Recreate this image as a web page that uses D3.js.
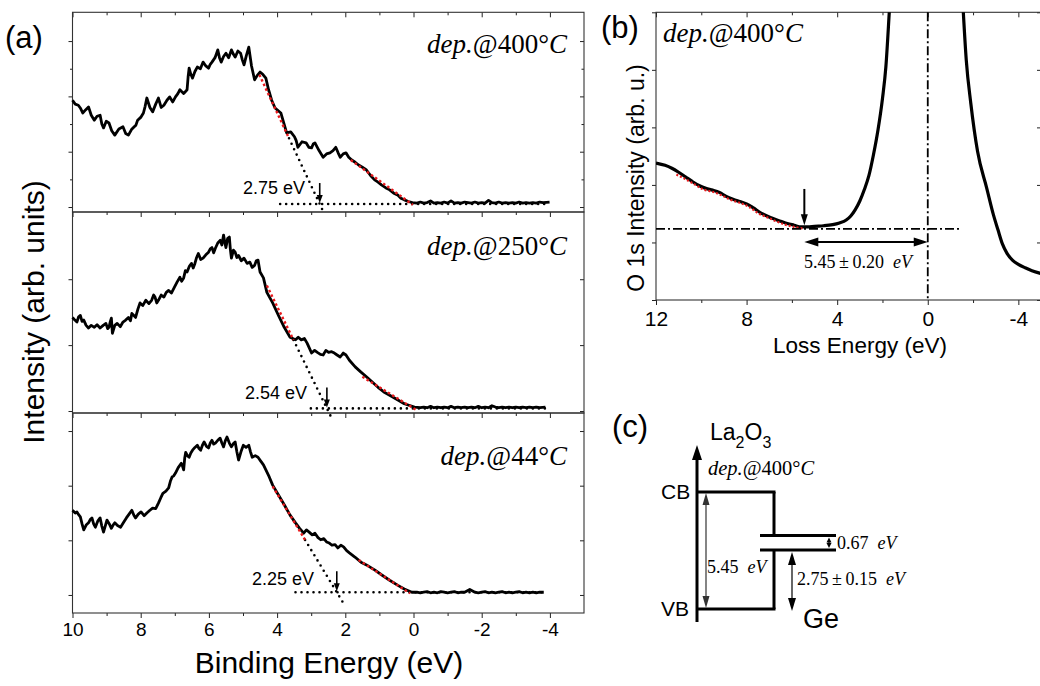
<!DOCTYPE html>
<html>
<head>
<meta charset="utf-8">
<script src="https://cdn.jsdelivr.net/npm/d3@7"></script>
<style>
  body { margin: 0; background: #fff; }
  svg { display: block; }
</style>
</head>
<body>
<svg id="fig" width="1040" height="686"></svg>
<script>
const SANS = '"Liberation Sans", Arial, sans-serif';
const SERIF = '"Liberation Serif", "Times New Roman", serif';

// ---------- (a) valence-band spectra ----------
const depTemps = ["400", "250", "44"];

const be400 = [10.00, 9.92, 9.83, 9.76, 9.70, 9.61, 9.53, 9.45, 9.36, 9.28, 9.19, 9.14, 9.09, 9.01, 8.93, 8.85, 8.76, 8.64, 8.52, 8.44, 8.36, 8.27, 8.19, 8.14, 8.09, 8.00, 7.92, 7.87, 7.82, 7.73, 7.65, 7.56, 7.48, 7.40, 7.32, 7.23, 7.15, 7.06, 6.98, 6.91, 6.85, 6.74, 6.64, 6.61, 6.58, 6.53, 6.48, 6.41, 6.34, 6.25, 6.17, 6.09, 6.01, 5.96, 5.91, 5.82, 5.74, 5.69, 5.64, 5.57, 5.50, 5.42, 5.34, 5.28, 5.23, 5.15, 5.07, 5.02, 4.97, 4.90, 4.83, 4.75, 4.66, 4.58, 4.50, 4.42, 4.33, 4.25, 4.16, 4.06, 3.89, 3.72, 3.60, 3.49, 3.44, 3.39, 3.27, 3.15, 3.07, 2.99, 2.94, 2.89, 2.77, 2.65, 2.55, 2.45, 2.36, 2.28, 2.21, 2.15, 2.06, 1.98, 1.90, 1.81, 1.71, 1.61, 1.50, 1.38, 1.26, 1.14, 1.04, 0.94, 0.82, 0.70, 0.58, 0.47, 0.37, 0.27, 0.15, 0.03,
  -0.1, -0.2, -0.3, -0.4, -0.5, -0.6, -0.7, -0.8, -0.9, -1.0, -1.1, -1.2, -1.3, -1.4, -1.5, -1.6, -1.7, -1.8, -1.9, -2.0, -2.1, -2.2, -2.3, -2.4, -2.5, -2.6, -2.7, -2.8, -2.9, -3.0, -3.1, -3.2, -3.3, -3.4, -3.5, -3.6, -3.7, -3.8, -3.99];
const int400 = [1.93, 1.86, 1.84, 1.78, 1.70, 1.76, 1.81, 1.66, 1.57, 1.64, 1.66, 1.50, 1.43, 1.55, 1.52, 1.38, 1.30, 1.41, 1.45, 1.33, 1.30, 1.40, 1.45, 1.48, 1.57, 1.62, 1.70, 1.82, 1.97, 1.80, 1.72, 1.86, 1.97, 1.80, 1.84, 1.93, 1.99, 1.90, 1.99, 2.05, 2.12, 2.05, 2.12, 2.35, 2.51, 2.40, 2.33, 2.45, 2.53, 2.50, 2.62, 2.55, 2.51, 2.58, 2.62, 2.70, 2.84, 2.70, 2.62, 2.72, 2.78, 2.70, 2.84, 2.76, 2.71, 2.82, 2.78, 2.66, 2.57, 2.74, 2.89, 2.55, 2.30, 2.38, 2.44, 2.40, 2.33, 2.12, 1.93, 1.79, 1.70, 1.34, 1.36, 1.27, 1.20, 1.08, 1.18, 1.16, 1.08, 1.07, 1.14, 1.16, 1.02, 0.90, 0.96, 0.98, 1.02, 1.08, 0.98, 0.90, 0.96, 0.98, 0.90, 0.85, 0.81, 0.76, 0.72, 0.67, 0.57, 0.49, 0.45, 0.40, 0.35, 0.31, 0.25, 0.22, 0.16, 0.13, 0.10, 0.08,
  0.07, 0.09, 0.07, 0.08, 0.11, 0.07, 0.08, 0.07, 0.09, 0.07, 0.11, 0.07, 0.08, 0.07, 0.09, 0.08, 0.07, 0.09, 0.07, 0.08, 0.07, 0.12, 0.08, 0.07, 0.09, 0.07, 0.08, 0.07, 0.08, 0.07, 0.09, 0.07, 0.08, 0.07, 0.08, 0.07, 0.09, 0.08, 0.09];

const be250 = [10.00, 9.93, 9.87, 9.82, 9.77, 9.72, 9.67, 9.60, 9.53, 9.45, 9.36, 9.28, 9.19, 9.10, 9.02, 8.97, 8.93, 8.89, 8.86, 8.83, 8.76, 8.69, 8.60, 8.52, 8.44, 8.36, 8.30, 8.26, 8.20, 8.15, 8.08, 8.02, 7.94, 7.85, 7.76, 7.68, 7.62, 7.58, 7.53, 7.48, 7.40, 7.32, 7.25, 7.18, 7.10, 7.01, 6.93, 6.85, 6.80, 6.74, 6.69, 6.64, 6.57, 6.51, 6.46, 6.41, 6.36, 6.31, 6.24, 6.17, 6.09, 6.01, 5.96, 5.91, 5.86, 5.81, 5.74, 5.67, 5.62, 5.57, 5.53, 5.50, 5.45, 5.40, 5.37, 5.34, 5.28, 5.23, 5.18, 5.13, 5.05, 4.97, 4.88, 4.80, 4.73, 4.66, 4.61, 4.56, 4.50, 4.40, 4.30, 4.13, 3.96, 3.79, 3.62, 3.46, 3.38, 3.29, 3.20, 3.12, 3.05, 2.99, 2.90, 2.82, 2.73, 2.65, 2.57, 2.49, 2.40, 2.32, 2.24, 2.15, 2.06, 1.98, 1.88, 1.71, 1.54, 1.38, 1.21, 1.04, 0.87, 0.70, 0.47, 0.27, -0.03,
  -0.2, -0.3, -0.4, -0.5, -0.6, -0.7, -0.8, -0.9, -1.0, -1.1, -1.2, -1.3, -1.4, -1.5, -1.6, -1.7, -1.8, -1.9, -2.0, -2.1, -2.2, -2.3, -2.4, -2.5, -2.6, -2.7, -2.8, -2.9, -3.0, -3.1, -3.2, -3.3, -3.4, -3.5, -3.6, -3.7, -3.87];
const int250 = [1.42, 1.38, 1.35, 1.43, 1.45, 1.36, 1.38, 1.30, 1.26, 1.30, 1.27, 1.31, 1.26, 1.30, 1.33, 1.25, 1.27, 1.36, 1.41, 1.18, 1.30, 1.33, 1.28, 1.35, 1.38, 1.42, 1.37, 1.48, 1.45, 1.42, 1.55, 1.64, 1.60, 1.68, 1.63, 1.68, 1.76, 1.73, 1.64, 1.68, 1.76, 1.73, 1.80, 1.83, 1.79, 1.88, 1.96, 2.03, 1.97, 2.02, 2.13, 2.11, 2.20, 2.24, 2.17, 2.24, 2.33, 2.39, 2.30, 2.32, 2.37, 2.41, 2.46, 2.48, 2.40, 2.47, 2.55, 2.59, 2.52, 2.67, 2.55, 2.48, 2.62, 2.64, 2.45, 2.32, 2.44, 2.41, 2.33, 2.36, 2.28, 2.32, 2.24, 2.26, 2.18, 2.21, 2.28, 2.29, 2.11, 2.02, 1.80, 1.64, 1.45, 1.27, 1.12, 1.08, 1.12, 1.08, 1.10, 1.03, 0.95, 0.88, 0.92, 0.89, 0.86, 0.85, 0.92, 0.89, 0.90, 0.88, 0.85, 0.82, 0.88, 0.85, 0.77, 0.67, 0.59, 0.52, 0.44, 0.36, 0.29, 0.24, 0.17, 0.11, 0.06,
  0.05, 0.06, 0.05, 0.07, 0.05, 0.06, 0.05, 0.06, 0.05, 0.07, 0.05, 0.06, 0.05, 0.06, 0.05, 0.06, 0.05, 0.07, 0.05, 0.06, 0.05, 0.08, 0.06, 0.05, 0.06, 0.05, 0.06, 0.05, 0.06, 0.05, 0.06, 0.05, 0.06, 0.05, 0.06, 0.05, 0.06];

const be44 = [10.00, 9.92, 9.87, 9.82, 9.77, 9.72, 9.67, 9.60, 9.53, 9.48, 9.43, 9.38, 9.33, 9.26, 9.19, 9.14, 9.09, 9.04, 8.99, 8.92, 8.86, 8.81, 8.76, 8.68, 8.59, 8.50, 8.42, 8.34, 8.26, 8.20, 8.15, 8.07, 7.99, 7.90, 7.82, 7.73, 7.65, 7.56, 7.48, 7.41, 7.35, 7.26, 7.18, 7.13, 7.08, 7.03, 6.98, 6.90, 6.81, 6.77, 6.74, 6.71, 6.68, 6.63, 6.58, 6.53, 6.48, 6.41, 6.34, 6.29, 6.24, 6.19, 6.14, 6.07, 6.01, 5.96, 5.91, 5.86, 5.81, 5.74, 5.67, 5.62, 5.57, 5.52, 5.47, 5.40, 5.34, 5.28, 5.23, 5.18, 5.13, 5.06, 4.99, 4.91, 4.83, 4.78, 4.73, 4.64, 4.56, 4.48, 4.40, 4.23, 4.13, 3.96, 3.79, 3.62, 3.46, 3.34, 3.22, 3.14, 3.06, 2.97, 2.89, 2.80, 2.72, 2.63, 2.55, 2.47, 2.39, 2.30, 2.22, 2.13, 2.05, 1.96, 1.88, 1.71, 1.54, 1.38, 1.14, 0.94, 0.70, 0.47, 0.27, 0.05,
  -0.1, -0.2, -0.3, -0.4, -0.5, -0.6, -0.7, -0.8, -0.9, -1.0, -1.1, -1.2, -1.3, -1.4, -1.5, -1.65, -1.8, -1.9, -2.0, -2.1, -2.2, -2.3, -2.4, -2.5, -2.6, -2.7, -2.8, -2.9, -3.0, -3.1, -3.2, -3.3, -3.4, -3.5, -3.6, -3.7, -3.82];
const int44 = [1.55, 1.50, 1.52, 1.47, 1.43, 1.30, 1.19, 1.28, 1.32, 1.38, 1.41, 1.30, 1.24, 1.35, 1.41, 1.26, 1.15, 1.26, 1.37, 1.30, 1.22, 1.28, 1.32, 1.27, 1.24, 1.33, 1.41, 1.48, 1.55, 1.46, 1.41, 1.48, 1.52, 1.45, 1.50, 1.55, 1.59, 1.58, 1.68, 1.78, 1.86, 1.90, 1.96, 2.08, 2.16, 2.18, 2.23, 2.33, 2.41, 2.35, 2.29, 2.50, 2.61, 2.55, 2.52, 2.60, 2.65, 2.70, 2.74, 2.68, 2.65, 2.74, 2.80, 2.72, 2.69, 2.78, 2.83, 2.76, 2.78, 2.83, 2.87, 2.78, 2.71, 2.82, 2.89, 2.78, 2.71, 2.77, 2.80, 2.62, 2.47, 2.62, 2.74, 2.70, 2.74, 2.62, 2.52, 2.55, 2.52, 2.45, 2.38, 2.16, 2.01, 1.83, 1.65, 1.46, 1.32, 1.22, 1.13, 1.19, 1.15, 1.10, 1.13, 1.05, 1.01, 1.03, 0.97, 0.95, 0.91, 0.92, 0.86, 0.91, 0.88, 0.81, 0.77, 0.69, 0.60, 0.55, 0.46, 0.37, 0.27, 0.18, 0.11, 0.05,
  0.05, 0.04, 0.05, 0.06, 0.04, 0.05, 0.04, 0.06, 0.05, 0.04, 0.05, 0.06, 0.04, 0.05, 0.05, 0.10, 0.05, 0.04, 0.05, 0.06, 0.04, 0.05, 0.04, 0.05, 0.06, 0.04, 0.05, 0.04, 0.05, 0.06, 0.04, 0.05, 0.04, 0.05, 0.04, 0.05, 0.05];

// linear leading-edge fits (intensity = base + slope * (BE - onset))
const onsetBE = [2.75, 2.54, 2.25];
const baseLevel = [0.054, 0.04, 0.05];
const edgeSlope = [1.32, 1.06, 1.03];
const edgeFitRange = [[4.52, 3.65], [4.30, 3.52], [4.13, 3.18]];
const edgeExtendTo = [2.67, 2.41, 2.08];
const baselineRange = [[3.91, -3.99], [3.01, -3.87], [3.46, -3.82]];
const tailFit = [[[1.84, 0.85], [0.02, 0.04]], [[1.50, 0.52], [-0.07, 0.02]], [[1.61, 0.64], [0.10, 0.03]]];

const beTicks = [10, 8, 6, 4, 2, 0, -2, -4];
const beMinor = [9, 7, 5, 3, 1, -1, -3];

// ---------- (b) O 1s energy-loss spectrum ----------
const lossE = [12.0, 11.6, 11.3, 11.0, 10.7, 10.4, 10.1, 9.8, 9.5, 9.2, 8.9, 8.6, 8.3, 8.0, 7.7, 7.4, 7.1, 6.8, 6.5, 6.2, 5.9, 5.6, 5.3, 5.0, 4.6, 4.2, 3.9, 3.6, 3.4, 3.2, 3.0, 2.8, 2.6, 2.4, 2.2, 2.0, 1.85, 1.7, 1.5, 1.2, 0.6, 0.0, -0.6, -1.2, -1.45, -1.57, -1.7, -1.9, -2.2, -2.6, -2.9, -3.1, -3.3, -3.5, -3.75, -4.0, -4.3, -4.6, -5.0];
const lossI = [2.38, 2.34, 2.29, 2.22, 2.14, 2.06, 1.99, 1.94, 1.91, 1.87, 1.80, 1.75, 1.71, 1.67, 1.60, 1.52, 1.46, 1.41, 1.37, 1.33, 1.30, 1.27, 1.27, 1.28, 1.29, 1.31, 1.34, 1.39, 1.46, 1.57, 1.72, 1.92, 2.16, 2.52, 2.95, 3.50, 4.05, 5.0, 6.4, 9.0, 13.0, 15.0, 13.0, 7.8, 5.9, 5.0, 4.17, 3.42, 2.58, 1.95, 1.48, 1.22, 0.97, 0.81, 0.69, 0.62, 0.56, 0.51, 0.46];
const lossFitE = [11.1, 10.7, 10.3, 9.9, 9.5, 9.1, 8.7, 8.3, 7.9, 7.5, 7.1, 6.7, 6.3, 5.9, 5.5];
const lossFitI = [2.18, 2.10, 2.01, 1.92, 1.88, 1.82, 1.74, 1.69, 1.62, 1.51, 1.44, 1.37, 1.31, 1.27, 1.24];
const lossBackground = 1.235;
const bandGapLa2O3 = 5.45;   // eV, onset of energy loss
const lossTicks = [12, 8, 4, 0, -4];
const lossMinor = [10, 6, 2, -2];
const lossYTicks = [0, 1, 2, 3, 4, 5];

// ---------- (c) band alignment ----------
const vbOffset = 2.75;
const geGap = 0.67;

const svg = d3.select("#fig");

function arrow(g, x1, y1, x2, y2, o) {
  const opt = Object.assign({ len: 10, half: 4, width: 1.5, color: "#000", both: false }, o || {});
  const dx = x2 - x1, dy = y2 - y1, L = Math.hypot(dx, dy);
  const ux = dx / L, uy = dy / L;
  const sx = opt.both ? x1 + ux * opt.len * 0.8 : x1;
  const sy = opt.both ? y1 + uy * opt.len * 0.8 : y1;
  g.append("line")
    .attr("x1", sx).attr("y1", sy)
    .attr("x2", x2 - ux * opt.len * 0.8).attr("y2", y2 - uy * opt.len * 0.8)
    .attr("stroke", opt.color).attr("stroke-width", opt.width);
  const head = (tx, ty, ax, ay) => {
    const bx = tx - ax * opt.len, by = ty - ay * opt.len;
    g.append("path")
      .attr("d", `M${tx},${ty}L${bx - ay * opt.half},${by + ax * opt.half}L${bx + ay * opt.half},${by - ax * opt.half}Z`)
      .attr("fill", opt.color);
  };
  head(x2, y2, ux, uy);
  if (opt.both) head(x1, y1, -ux, -uy);
}

function depLabel(g, x, y, temp, size, anchor) {
  const t = g.append("text")
    .attr("x", x).attr("y", y)
    .attr("font-family", SERIF).attr("font-size", size)
    .attr("text-anchor", anchor);
  t.append("tspan").attr("font-style", "italic").text("dep.");
  t.append("tspan").text("@" + temp + "°");
  t.append("tspan").attr("font-style", "italic").text("C");
}

function styleAxis(g, size) {
  g.select(".domain").remove();
  g.attr("color", "#222");
  g.selectAll("line").attr("stroke-width", 1);
  g.selectAll("text").attr("font-family", SANS).attr("font-size", size).attr("fill", "#000");
}

// ================= panel (a) =================
const gA = svg.append("g");
const xA = d3.scaleLinear().domain([10, -5]).range([72.5, 584]);
const panelsA = [
  { be: be400, it: int400, top: 12.3, bottom: 212, dom: [-0.09, 3.52], major: [0, 1, 2, 3], minor: [0.5, 1.5, 2.5], labelY: 53, onsetLabelX: 305, onsetLabelY: 194 },
  { be: be250, it: int250, top: 212, bottom: 413, dom: [-0.03, 3.02], major: [0, 1, 2], minor: [], labelY: 255, onsetLabelX: 307, onsetLabelY: 399 },
  { be: be44, it: int44, top: 413, bottom: 613, dom: [-0.33, 3.33], major: [0, 1, 2, 3], minor: [], labelY: 465, onsetLabelX: 314, onsetLabelY: 585 }
];

panelsA.forEach((p, i) => {
  const y = d3.scaleLinear().domain(p.dom).range([p.bottom, p.top]);
  const g = gA.append("g");

  // ticks
  g.append("g").attr("transform", `translate(0,${p.top})`)
    .call(d3.axisTop(xA).tickValues(beTicks).tickSize(-5).tickSizeOuter(0).tickFormat(""))
    .call(a => styleAxis(a, 19));
  g.append("g").attr("transform", `translate(0,${p.top})`)
    .call(d3.axisTop(xA).tickValues(beMinor).tickSize(-3).tickSizeOuter(0).tickFormat(""))
    .call(a => styleAxis(a, 19));
  g.append("g").attr("transform", `translate(${xA(10)},0)`)
    .call(d3.axisLeft(y).tickValues(p.major).tickSize(4).tickSizeOuter(0).tickFormat(""))
    .call(a => styleAxis(a, 19));
  g.append("g").attr("transform", `translate(${xA(-5)},0)`)
    .call(d3.axisRight(y).tickValues(p.major).tickSize(-4).tickSizeOuter(0).tickFormat(""))
    .call(a => styleAxis(a, 19));
  if (p.minor.length) {
    g.append("g").attr("transform", `translate(${xA(10)},0)`)
      .call(d3.axisLeft(y).tickValues(p.minor).tickSize(2.5).tickSizeOuter(0).tickFormat(""))
      .call(a => styleAxis(a, 19));
    g.append("g").attr("transform", `translate(${xA(-5)},0)`)
      .call(d3.axisRight(y).tickValues(p.minor).tickSize(-2.5).tickSizeOuter(0).tickFormat(""))
      .call(a => styleAxis(a, 19));
  }
  if (i === panelsA.length - 1) {
    g.append("g").attr("transform", `translate(0,${p.bottom})`)
      .call(d3.axisBottom(xA).tickValues(beTicks).tickSize(5).tickPadding(5).tickSizeOuter(0).tickFormat(d => String(d)))
      .call(a => styleAxis(a, 19));
    g.append("g").attr("transform", `translate(0,${p.bottom})`)
      .call(d3.axisBottom(xA).tickValues(beMinor).tickSize(3).tickSizeOuter(0).tickFormat(""))
      .call(a => styleAxis(a, 19));
  }

  g.append("rect")
    .attr("x", xA(10)).attr("y", p.top)
    .attr("width", xA(-5) - xA(10)).attr("height", p.bottom - p.top)
    .attr("fill", "none").attr("stroke", "#333").attr("stroke-width", 1.1);

  // spectrum
  const pts = p.be.map((e, k) => [e, p.it[k]]);
  g.append("path").datum(pts)
    .attr("d", d3.line().x(d => xA(d[0])).y(d => y(d[1])))
    .attr("fill", "none").attr("stroke", "#000")
    .attr("stroke-width", 2.8).attr("stroke-linejoin", "round");

  // baseline and leading-edge extrapolation (black dots)
  const fit = e => baseLevel[i] + edgeSlope[i] * (e - onsetBE[i]);
  g.append("line")
    .attr("x1", xA(baselineRange[i][0])).attr("x2", xA(baselineRange[i][1]))
    .attr("y1", y(baseLevel[i])).attr("y2", y(baseLevel[i]))
    .attr("stroke", "#000").attr("stroke-width", 2.6)
    .attr("stroke-dasharray", "0,6").attr("stroke-linecap", "round");
  g.append("line")
    .attr("x1", xA(edgeFitRange[i][1])).attr("y1", y(fit(edgeFitRange[i][1])))
    .attr("x2", xA(edgeExtendTo[i])).attr("y2", y(fit(edgeExtendTo[i])))
    .attr("stroke", "#000").attr("stroke-width", 2.6)
    .attr("stroke-dasharray", "0,6").attr("stroke-linecap", "round");

  // red fitted segments
  g.append("line")
    .attr("x1", xA(edgeFitRange[i][0])).attr("y1", y(fit(edgeFitRange[i][0])))
    .attr("x2", xA(edgeFitRange[i][1])).attr("y2", y(fit(edgeFitRange[i][1])))
    .attr("stroke", "#e8191c").attr("stroke-width", 2.4).attr("stroke-dasharray", "2.5,2.5");
  g.append("line")
    .attr("x1", xA(tailFit[i][0][0])).attr("y1", y(tailFit[i][0][1]))
    .attr("x2", xA(tailFit[i][1][0])).attr("y2", y(tailFit[i][1][1]))
    .attr("stroke", "#e8191c").attr("stroke-width", 2.4).attr("stroke-dasharray", "2.5,2.5");

  // onset arrow and label
  const yb = y(baseLevel[i]);
  arrow(g, xA(onsetBE[i]), yb - 21, xA(onsetBE[i]), yb - 1, { len: 8, half: 3, width: 1.6 });
  g.append("text")
    .attr("x", p.onsetLabelX).attr("y", p.onsetLabelY)
    .attr("text-anchor", "end").attr("font-family", SANS).attr("font-size", 18)
    .text(onsetBE[i].toFixed(2) + " eV");

  depLabel(g, 567, p.labelY, depTemps[i], 27, "end");
});

gA.append("text").attr("x", 5).attr("y", 48)
  .attr("font-family", SANS).attr("font-size", 31).text("(a)");
gA.append("text")
  .attr("transform", "translate(44,312) rotate(-90)")
  .attr("text-anchor", "middle").attr("font-family", SANS).attr("font-size", 30)
  .text("Intensity (arb. units)");
gA.append("text").attr("x", 329).attr("y", 673)
  .attr("text-anchor", "middle").attr("font-family", SANS).attr("font-size", 30)
  .text("Binding Energy (eV)");

// ================= panel (b) =================
const gB = svg.append("g");
const xB = d3.scaleLinear().domain([12, -5]).range([656, 1041]);
const yB = d3.scaleLinear().domain([0, 5]).range([300, 12.3]);

gB.append("g").attr("transform", `translate(0,${yB(0)})`)
  .call(d3.axisBottom(xB).tickValues(lossTicks).tickSize(5).tickPadding(6).tickSizeOuter(0).tickFormat(d => String(d)))
  .call(a => styleAxis(a, 21));
gB.append("g").attr("transform", `translate(0,${yB(0)})`)
  .call(d3.axisBottom(xB).tickValues(lossMinor).tickSize(3).tickSizeOuter(0).tickFormat(""))
  .call(a => styleAxis(a, 21));
gB.append("g").attr("transform", `translate(0,${yB(5)})`)
  .call(d3.axisTop(xB).tickValues(lossTicks).tickSize(-5).tickSizeOuter(0).tickFormat(""))
  .call(a => styleAxis(a, 21));
gB.append("g").attr("transform", `translate(0,${yB(5)})`)
  .call(d3.axisTop(xB).tickValues(lossMinor).tickSize(-3).tickSizeOuter(0).tickFormat(""))
  .call(a => styleAxis(a, 21));
gB.append("g").attr("transform", `translate(${xB(12)},0)`)
  .call(d3.axisLeft(yB).tickValues(lossYTicks).tickSize(4).tickSizeOuter(0).tickFormat(""))
  .call(a => styleAxis(a, 21));
gB.append("g").attr("transform", `translate(${xB(-5)},0)`)
  .call(d3.axisRight(yB).tickValues(lossYTicks).tickSize(-4).tickSizeOuter(0).tickFormat(""))
  .call(a => styleAxis(a, 21));
gB.append("rect")
  .attr("x", xB(12)).attr("y", yB(5))
  .attr("width", xB(-5) - xB(12)).attr("height", yB(0) - yB(5))
  .attr("fill", "none").attr("stroke", "#333").attr("stroke-width", 1.1);

svg.append("defs").append("clipPath").attr("id", "clipB")
  .append("rect").attr("x", xB(12)).attr("y", yB(5))
  .attr("width", xB(-5) - xB(12)).attr("height", yB(0) - yB(5));

const lossPts = lossE.map((e, k) => [e, lossI[k]]);
gB.append("path").datum(lossPts)
  .attr("clip-path", "url(#clipB)")
  .attr("d", d3.line().x(d => xB(d[0])).y(d => yB(d[1])).curve(d3.curveMonotoneX))
  .attr("fill", "none").attr("stroke", "#000").attr("stroke-width", 3.2);

const fitPts = lossFitE.map((e, k) => [e, lossFitI[k]]);
gB.append("path").datum(fitPts)
  .attr("d", d3.line().x(d => xB(d[0])).y(d => yB(d[1])).curve(d3.curveMonotoneX))
  .attr("fill", "none").attr("stroke", "#e8191c").attr("stroke-width", 2.2)
  .attr("stroke-dasharray", "2,2");

// background level and zero-loss position (dash-dot)
gB.append("line")
  .attr("x1", xB(12)).attr("x2", xB(-1.5))
  .attr("y1", yB(lossBackground)).attr("y2", yB(lossBackground))
  .attr("stroke", "#000").attr("stroke-width", 1.8).attr("stroke-dasharray", "9,3,2,3");
gB.append("line")
  .attr("x1", xB(0)).attr("x2", xB(0))
  .attr("y1", yB(5)).attr("y2", yB(0))
  .attr("stroke", "#000").attr("stroke-width", 1.8).attr("stroke-dasharray", "9,3,2,3");

arrow(gB, xB(bandGapLa2O3), yB(1.93), xB(bandGapLa2O3), yB(1.30), { len: 11, half: 3.5, width: 2 });
arrow(gB, xB(bandGapLa2O3), yB(1.01), xB(0), yB(1.01), { len: 14, half: 4.5, width: 2, both: true });

const gapLbl = gB.append("text").attr("x", 858).attr("y", 268)
  .attr("text-anchor", "middle").attr("font-family", SERIF).attr("font-size", 18);
gapLbl.append("tspan").text(bandGapLa2O3.toFixed(2) + "\u2009±\u20090.20\u2002");
gapLbl.append("tspan").attr("font-style", "italic").text("eV");

gB.append("text").attr("x", 601).attr("y", 38)
  .attr("font-family", SANS).attr("font-size", 31).text("(b)");
depLabel(gB, 663, 42, "400", 27, "start");
gB.append("text")
  .attr("transform", "translate(644,178) rotate(-90)")
  .attr("text-anchor", "middle").attr("font-family", SANS).attr("font-size", 23)
  .text("O 1s Intensity (arb. u.)");
gB.append("text").attr("x", 860).attr("y", 353)
  .attr("text-anchor", "middle").attr("font-family", SANS).attr("font-size", 22.5)
  .text("Loss Energy (eV)");

// ================= panel (c) =================
const gC = svg.append("g");
const yC = d3.scaleLinear().domain([0, bandGapLa2O3]).range([609, 492]);
const xAxisC = 697, xLaRight = 774, xGeL = 760, xGeR = 836;
const geVB = vbOffset, geCB = vbOffset + geGap;

arrow(gC, xAxisC, 622, xAxisC, 445, { len: 15, half: 5, width: 3 });
function seg(x1, y1, x2, y2) {
  gC.append("line").attr("x1", x1).attr("y1", y1).attr("x2", x2).attr("y2", y2)
    .attr("stroke", "#000").attr("stroke-width", 3);
}
seg(xAxisC, yC(bandGapLa2O3), xLaRight + 1.5, yC(bandGapLa2O3));
seg(xLaRight, yC(bandGapLa2O3), xLaRight, yC(geCB));
seg(xGeL, yC(geCB), xGeR, yC(geCB));
seg(xGeL, yC(geVB), xGeR, yC(geVB));
seg(xLaRight, yC(geVB), xLaRight, yC(0));
seg(xAxisC, yC(0), xLaRight + 1.5, yC(0));

arrow(gC, 706, yC(bandGapLa2O3) + 1, 706, yC(0) - 1, { len: 12, half: 3.5, width: 1.2, color: "#333", both: true });
arrow(gC, 829, yC(geCB) + 2, 829, yC(geVB) - 2, { len: 5, half: 2.5, width: 1.2, both: true });
arrow(gC, 792, yC(geVB) + 2, 792, yC(0) + 2, { len: 13, half: 4, width: 1.2, both: true });

gC.append("text").attr("x", 612).attr("y", 437)
  .attr("font-family", SANS).attr("font-size", 31).text("(c)");
const la = gC.append("text").attr("x", 710).attr("y", 440)
  .attr("font-family", SANS).attr("font-size", 23);
la.append("tspan").text("La");
la.append("tspan").attr("dy", 8).attr("font-size", 16).text("2");
la.append("tspan").attr("dy", -8).text("O");
la.append("tspan").attr("dy", 8).attr("font-size", 16).text("3");
depLabel(gC, 708, 475, "400", 20.5, "start");
gC.append("text").attr("x", 661).attr("y", yC(bandGapLa2O3) + 7)
  .attr("font-family", SANS).attr("font-size", 21).text("CB");
gC.append("text").attr("x", 661).attr("y", yC(0) + 7)
  .attr("font-family", SANS).attr("font-size", 21).text("VB");

function evLabel(x, y, txt) {
  const t = gC.append("text").attr("x", x).attr("y", y)
    .attr("font-family", SERIF).attr("font-size", 18);
  t.append("tspan").text(txt + "\u2002");
  t.append("tspan").attr("font-style", "italic").text("eV");
}
evLabel(707, 573, bandGapLa2O3.toFixed(2));
evLabel(837, (yC(geCB) + yC(geVB)) / 2 + 6, geGap.toFixed(2));
evLabel(797, 585, vbOffset.toFixed(2) + "\u2009±\u20090.15");
gC.append("text").attr("x", 803).attr("y", 628)
  .attr("font-family", SANS).attr("font-size", 27).text("Ge");
</script>
</body>
</html>
